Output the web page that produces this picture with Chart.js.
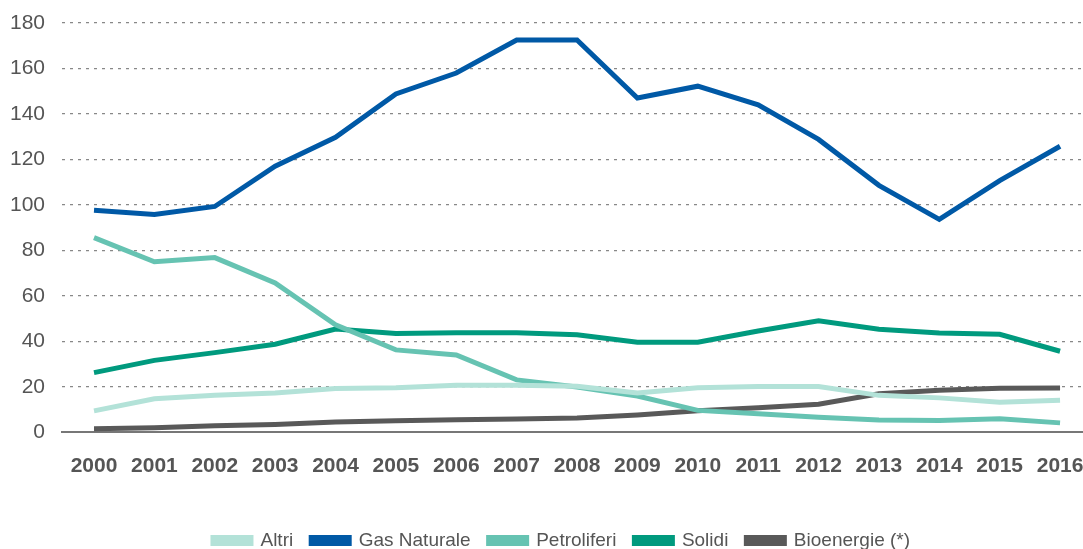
<!DOCTYPE html>
<html>
<head>
<meta charset="utf-8">
<script src="https://cdn.jsdelivr.net/npm/chart.js@4"></script>
<style>
  html, body { margin: 0; padding: 0; background: #fff; }
  #wrap { width: 1083px; height: 549px; }
</style>
</head>
<body>
<div id="wrap"><canvas id="grafico"></canvas></div>
<script>
const anni = [2000, 2001, 2002, 2003, 2004, 2005, 2006, 2007, 2008, 2009, 2010, 2011, 2012, 2013, 2014, 2015, 2016];
const altri = [9.4, 14.7, 16.3, 17.2, 19.2, 19.5, 20.6, 20.6, 20.2, 17.3, 19.5, 20.1, 20.1, 16.2, 15.1, 13.2, 14];
const gasNaturale = [97.6, 95.8, 99.3, 117, 129.7, 148.8, 158, 172.5, 172.5, 147, 152.2, 144, 128.8, 108.6, 93.6, 110.7, 125.8];
const petroliferi = [85.6, 75, 76.8, 65.7, 47.2, 36.2, 34, 23, 19.9, 15.9, 9.6, 8.1, 6.6, 5.4, 5.2, 5.9, 4.1];
const solidi = [26.2, 31.6, 35, 38.7, 45.4, 43.4, 43.8, 43.8, 42.9, 39.6, 39.6, 44.5, 49, 45.3, 43.6, 43.1, 35.6];
const bioenergie = [1.5, 2, 2.8, 3.4, 4.5, 5, 5.5, 5.8, 6.2, 7.6, 9.4, 10.8, 12.3, 16.9, 18.5, 19.3, 19.4];
const yTicks = [0, 20, 40, 60, 80, 100, 120, 140, 160, 180];

const serie = [
  { label: 'Altri', valori: altri, colore: '#b3e2d8' },
  { label: 'Gas Naturale', valori: gasNaturale, colore: '#0059a6' },
  { label: 'Petroliferi', valori: petroliferi, colore: '#66c3b2' },
  { label: 'Solidi', valori: solidi, colore: '#009a7e' },
  { label: 'Bioenergie (*)', valori: bioenergie, colore: '#595959' }
];

const datasets = serie.map(s => ({
  label: s.label,
  data: anni.map((a, i) => ({ x: a, y: s.valori[i] })),
  borderColor: s.colore,
  backgroundColor: s.colore,
  borderWidth: 5,
  pointRadius: 0,
  tension: 0,
  fill: false
}));

const font = 'Liberation Sans, Arial, sans-serif';

// legenda più in basso e un po' spostata a destra
const legendaBassa = {
  id: 'legendaBassa',
  beforeInit(chart) {
    const fit = chart.legend.fit;
    chart.legend.fit = function () {
      fit.bind(chart.legend)();
      this.height -= 11;
    };
  },
  afterLayout(chart) {
    chart.legend.left += 20;
    chart.legend.right += 20;
  }
};

const ctx = document.getElementById('grafico').getContext('2d');
new Chart(ctx, {
  type: 'line',
  data: { datasets: datasets },
  plugins: [legendaBassa],
  options: {
    responsive: true,
    maintainAspectRatio: false,
    animation: false,
    layout: { padding: { top: 23, right: 0, left: 0, bottom: 0 } },
    scales: {
      x: {
        type: 'linear',
        min: 1999.47,
        max: 2016.38,
        grid: { display: false },
        border: { display: true, color: '#777', width: 2 },
        afterFit: s => { s.paddingLeft = 0; s.paddingRight = 0; },
        ticks: {
          stepSize: 1,
          includeBounds: false,
          autoSkip: false,
          maxRotation: 0,
          color: '#555',
          padding: 13,
          font: { family: font, size: 21, weight: 'bold' },
          callback: v => Number.isInteger(v) ? String(v) : ''
        },
        title: { display: true, text: ' ', padding: { top: 0, bottom: 0 }, font: { size: 18 } }
      },
      y: {
        min: 0,
        max: 180,
        afterBuildTicks: scale => { scale.ticks = yTicks.map(v => ({ value: v })); },
        afterFit: s => { s.width = 62; s.paddingTop = 0; s.paddingBottom = 0; },
        grid: {
          color: c => c.tick && c.tick.value === 0 ? 'rgba(0,0,0,0)' : '#888',
          lineWidth: 1.2,
          drawTicks: false
        },
        border: { display: false, dash: [3, 5] },
        ticks: {
          color: '#555',
          padding: 17,
          font: { family: font, size: 21 }
        }
      }
    },
    plugins: {
      legend: {
        position: 'bottom',
        labels: {
          boxWidth: 38,
          boxHeight: 6,
          color: '#555',
          padding: 18,
          font: { family: font, size: 19 }
        }
      },
      tooltip: { enabled: false }
    }
  }
});
</script>
</body>
</html>
